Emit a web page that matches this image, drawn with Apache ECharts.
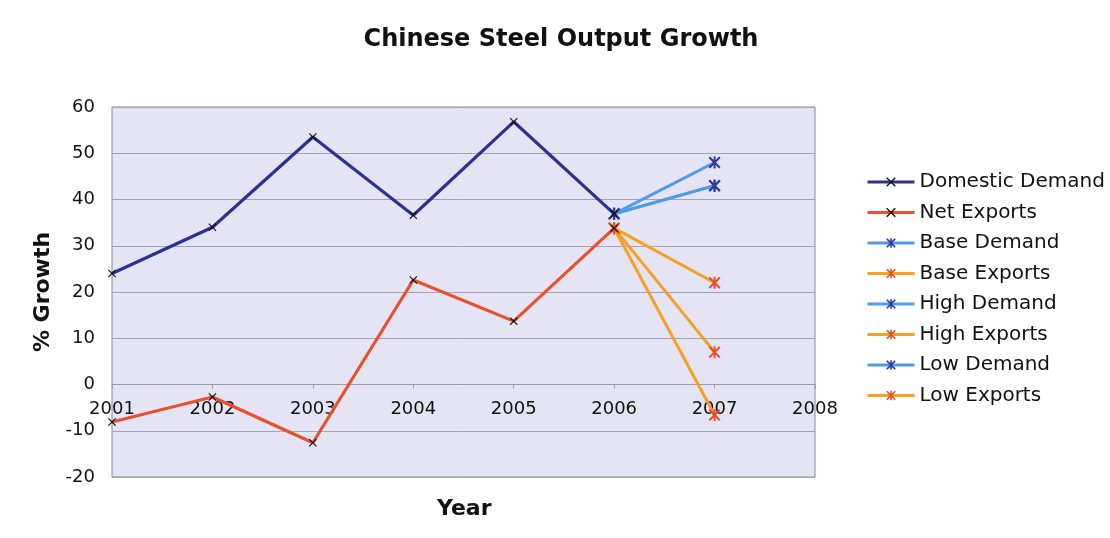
<!DOCTYPE html>
<html>
<head>
<meta charset="utf-8">
<script src="https://cdn.jsdelivr.net/npm/echarts@6/dist/echarts.min.js"></script>
<style>
  html, body { margin: 0; padding: 0; background: #ffffff; }
  #chart { width: 1110px; height: 538px; }
</style>
</head>
<body>
<div id="chart"></div>
<script>
// Chinese steel output growth by year, history plus 2007 scenarios
const years = ['2001', '2002', '2003', '2004', '2005', '2006', '2007', '2008'];
const domesticDemand = [24, 34, 53.5, 36.6, 56.8, 36.9, null, null];
const netExports = [-8.1, -2.7, -12.6, 22.6, 13.7, 33.8, null, null];
const baseDemand = [null, null, null, null, null, 36.9, 43, null];
const baseExports = [null, null, null, null, null, 33.8, 7, null];
const highDemand = [null, null, null, null, null, 36.9, 48, null];
const highExports = [null, null, null, null, null, 33.8, 22, null];
const lowDemand = [null, null, null, null, null, 36.9, 43, null];
const lowExports = [null, null, null, null, null, 33.8, -6.6, null];
const yTicks = { min: -20, max: 60, interval: 10 };

const FONT = '"DejaVu Sans", Verdana, sans-serif';
const crossMark = 'path://M0,1L1,0L5,4L9,0L10,1L6,5L10,9L9,10L5,6L1,10L0,9L4,5Z';
const starMark = 'path://M0,1.2L1.2,0L5,3.8L8.8,0L10,1.2L6.2,5L10,8.8L8.8,10L5,6.2L1.2,10L0,8.8L3.8,5Z M4.2,0L5.8,0L5.8,10L4.2,10Z';

// plot box
const GRID = { left: 112, right: 295, top: 107, bottom: 61 };
const plotHeight = 538 - GRID.top - GRID.bottom;
// category axis sits on the zero line
const zeroOffset = -plotHeight * (0 - yTicks.min) / (yTicks.max - yTicks.min);

function historySeries(name, data, lineColor) {
  return {
    name, type: 'line', data,
    symbol: crossMark, symbolSize: 8, showSymbol: true,
    lineStyle: { color: lineColor, width: 3.2 },
    itemStyle: { color: '#111111' },
    emphasis: { disabled: true },
    z: 3
  };
}
function scenarioSeries(name, data, lineColor, markColor) {
  return {
    name, type: 'line', data,
    symbol: starMark, symbolSize: 12, showSymbol: true,
    lineStyle: { color: lineColor, width: 3 },
    itemStyle: { color: markColor },
    emphasis: { disabled: true },
    z: 2
  };
}

const DEMAND_LINE = '#4f9be8', DEMAND_MARK = '#2b3a9c';
const EXPORT_LINE = '#f5a023', EXPORT_MARK = '#e5502a';

const chart = echarts.init(document.getElementById('chart'));
chart.setOption({
  backgroundColor: '#ffffff',
  animation: false,
  title: {
    text: 'Chinese Steel Output Growth',
    left: 556, top: 23, textAlign: 'center',
    textStyle: { fontFamily: FONT, fontSize: 24, fontWeight: 'bold', color: '#111111' }
  },
  legend: {
    orient: 'vertical', left: 861, top: 167,
    itemWidth: 47, itemHeight: 12, itemGap: 10.5,
    lineStyle: { width: 3 },
    textStyle: { fontFamily: FONT, fontSize: 20, color: '#111111', lineHeight: 20 },
    data: ['Domestic Demand', 'Net Exports', 'Base Demand', 'Base Exports',
           'High Demand', 'High Exports', 'Low Demand', 'Low Exports']
  },
  grid: {
    left: GRID.left, right: GRID.right, top: GRID.top, bottom: GRID.bottom,
    show: true, backgroundColor: '#e5e4f5', borderColor: '#8a8a8a', borderWidth: 1
  },
  xAxis: {
    type: 'category', data: years, boundaryGap: false,
    position: 'bottom', offset: zeroOffset,
    axisLine: { onZero: false, lineStyle: { color: '#9a9aa8', width: 1 } },
    axisTick: { show: true, length: 4, lineStyle: { color: '#9a9aa8' } },
    axisLabel: { fontFamily: FONT, fontSize: 18, color: '#111111', margin: 16 },
    splitLine: { show: false }
  },
  yAxis: {
    type: 'value', min: yTicks.min, max: yTicks.max, interval: yTicks.interval,
    name: '% Growth', nameLocation: 'middle', nameGap: 58, nameRotate: 90,
    nameTextStyle: { fontFamily: FONT, fontSize: 22, fontWeight: 'bold', color: '#111111' },
    axisLine: { show: false },
    axisTick: { show: false },
    axisLabel: { fontFamily: FONT, fontSize: 18, color: '#111111', margin: 17 },
    splitLine: { lineStyle: { color: '#a3a3b8', width: 1 } }
  },
  graphic: [{
    type: 'text', left: 437, top: 498,
    style: { text: 'Year', font: 'bold 22px ' + FONT, fill: '#111111' }
  }],
  series: [
    historySeries('Domestic Demand', domesticDemand, '#2e3192'),
    historySeries('Net Exports', netExports, '#e8502e'),
    scenarioSeries('Base Demand', baseDemand, DEMAND_LINE, DEMAND_MARK),
    scenarioSeries('Base Exports', baseExports, EXPORT_LINE, EXPORT_MARK),
    scenarioSeries('High Demand', highDemand, DEMAND_LINE, DEMAND_MARK),
    scenarioSeries('High Exports', highExports, EXPORT_LINE, EXPORT_MARK),
    scenarioSeries('Low Demand', lowDemand, DEMAND_LINE, DEMAND_MARK),
    scenarioSeries('Low Exports', lowExports, EXPORT_LINE, EXPORT_MARK)
  ]
});
</script>
</body>
</html>
